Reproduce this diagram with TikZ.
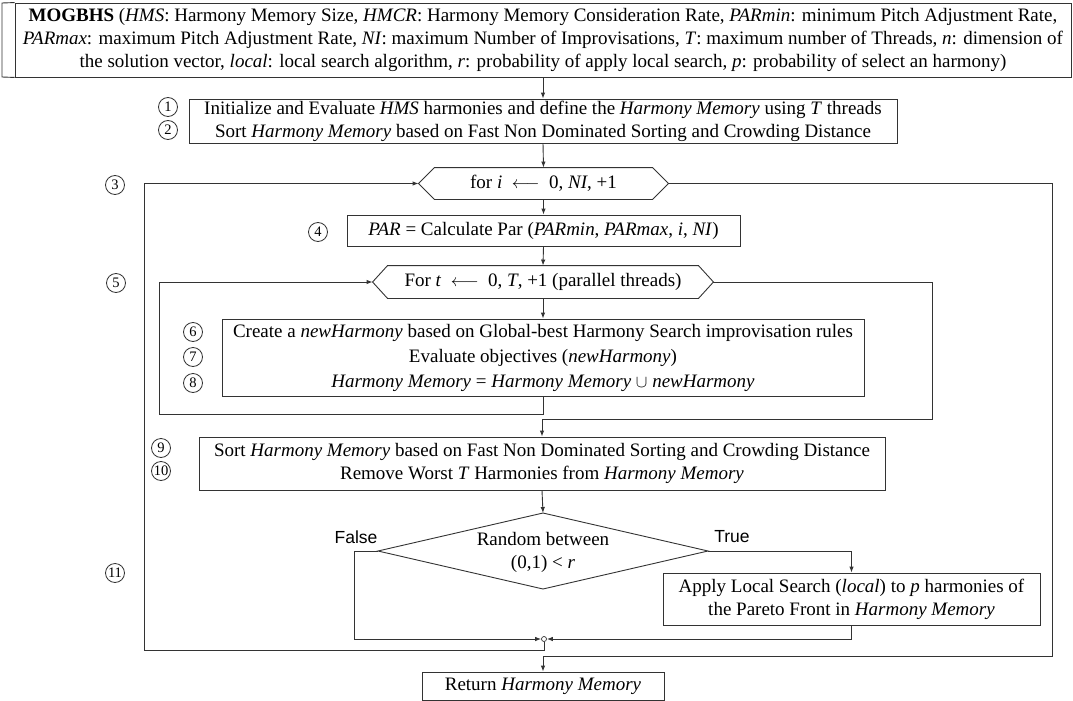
\documentclass[tikz,border=0pt]{standalone}
\usepackage{fontspec}
\setmainfont{Liberation Serif}
\newfontfamily\tflabel{Liberation Sans}
\usetikzlibrary{arrows.meta}
\colorlet{lc}{black!80}

\begin{document}
\begin{tikzpicture}[x=1pt,y=-1pt, line width=0.9pt,
  every node/.style={font=\fontsize{19}{23}\selectfont},
  box/.style={draw=lc, rectangle, align=center, inner sep=0pt},
  numc/.style={draw=lc, circle, inner sep=0pt, minimum size=19pt, line width=0.8pt, font=\fontsize{14.5}{14.5}\selectfont},
  flow/.style={draw=lc, -{Latex[length=6pt,width=4.5pt]}},
  tf/.style={font=\tflabel\fontsize{17.5}{20}\selectfont}]
  \useasboundingbox (0,0) rectangle (1073,701);

  % header
  \node[box, minimum width=1056pt, minimum height=74pt] (head) at (543,40)
    {\textbf{MOGBHS} (\textit{HMS}: Harmony Memory Size, \textit{HMCR}: Harmony Memory Consideration Rate, \textit{PARmin}: minimum Pitch Adjustment Rate,\\
     \textit{PARmax}: maximum Pitch Adjustment Rate, \textit{NI}: maximum Number of Improvisations, \textit{T}: maximum number of Threads, \textit{n}: dimension of\\
     the solution vector, \textit{local}: local search algorithm, \textit{r}: probability of apply local search, \textit{p}: probability of select an harmony)};
  \draw[lc] (head.north west) -- (2,3) -- (2,77) -- (head.south west);

  \node[box, minimum width=708pt, minimum height=44pt] (init) at (543,121)
    {Initialize and Evaluate \textit{HMS} harmonies and define the \textit{Harmony Memory} using \textit{T} threads\\
     Sort \textit{Harmony Memory} based on Fast Non Dominated Sorting and Crowding Distance};

  % outer loop
  \node[inner sep=0pt, minimum width=217pt, minimum height=31pt] (fori) at (543.5,183.5)
    {for \textit{i}\enspace$\longleftarrow$\enspace 0, \textit{NI}, +1};
  \coordinate (foriW) at ([xshift=-16pt]fori.west);
  \coordinate (foriE) at ([xshift=16pt]fori.east);
  \draw[lc] (fori.north west) -- (fori.north east) -- (foriE) -- (fori.south east)
    -- (fori.south west) -- (foriW) -- cycle;

  \node[box, minimum width=393pt, minimum height=31pt] (par) at (543.5,230.5)
    {\textit{PAR} = Calculate Par (\textit{PARmin}, \textit{PARmax}, \textit{i}, \textit{NI})};

  % inner loop
  \node[inner sep=0pt, minimum width=310pt, minimum height=32pt] (fort) at (543,282)
    {For \textit{t}\enspace$\longleftarrow$\enspace 0, \textit{T}, +1 (parallel threads)};
  \coordinate (fortW) at ([xshift=-15pt]fort.west);
  \coordinate (fortE) at ([xshift=15pt]fort.east);
  \draw[lc] (fort.north west) -- (fort.north east) -- (fortE) -- (fort.south east)
    -- (fort.south west) -- (fortW) -- cycle;

  \node[box, minimum width=642pt, minimum height=77pt] (improv) at (543,357.5)
    {Create a \textit{newHarmony} based on Global-best Harmony Search improvisation rules\\[2pt]
     Evaluate objectives (\textit{newHarmony})\\[2pt]
     \textit{Harmony Memory} = \textit{Harmony Memory} $\cup$ \textit{newHarmony}};

  \node[box, minimum width=686pt, minimum height=53pt] (sort) at (542,463.5)
    {Sort \textit{Harmony Memory} based on Fast Non Dominated Sorting and Crowding Distance\\
     Remove Worst \textit{T} Harmonies from \textit{Harmony Memory}};

  % decision
  \node[align=center, inner sep=0pt] (cond) at (543,552) {Random between\\(0,1) < \textit{r}};
  \coordinate (condN) at (543,513);
  \coordinate (condS) at (543,589);
  \coordinate (condW) at (378,551);
  \coordinate (condE) at (708,551);
  \draw[lc] (condN) -- (condE) -- (condS) -- (condW) -- cycle;
  \node[tf] (flabel) at (356,537) {False};
  \node[tf] (tlabel) at (732,537) {True};

  \node[box, minimum width=377pt, minimum height=52pt] (apply) at (851.5,599)
    {Apply Local Search (\textit{local}) to \textit{p} harmonies of\\
     the Pareto Front in \textit{Harmony Memory}};
  \node[draw=lc, circle, inner sep=0pt, minimum size=5pt, line width=0.7pt] (join) at (544,639) {};

  \node[box, minimum width=242pt, minimum height=28pt] (ret) at (543,686) {Return \textit{Harmony Memory}};

  % step numbers
  \foreach \n/\x/\y in {1/168/107, 2/168/130, 3/115/185, 4/318/232, 5/116/283, 6/193/332, 7/193/357,
      8/193/383, 9/161/448, 10/161/471, 11/115/573}
    \node[numc] (n\n) at (\x,\y) {\n};

  % connectors
  \draw[flow] (head.south) -- (init.north);
  \draw[flow] (init.south) -- (fori.north);
  \draw[flow] (fori.south) -- (par.north);
  \draw[flow] (par.south) -- (fort.north);
  \draw[flow] (fort.south) -- (improv.north);
  \draw[flow] (improv.south) |- (159,414) |- (fortW);
  \draw[flow] (fortE) -| (932,419) -| (sort.north);
  \draw[flow] (sort.south) -- (condN);
  \draw[flow] (condW) -| (354,639) -- (join.west);
  \draw[flow] (condE) -| (apply.north);
  \draw[flow] (apply.south) |- (join.east);
  \draw[flow] (join.south) |- (144,650) |- (foriW);
  \draw[flow] (foriE) -| (1052,656) -| (ret.north);
\end{tikzpicture}
\end{document}
